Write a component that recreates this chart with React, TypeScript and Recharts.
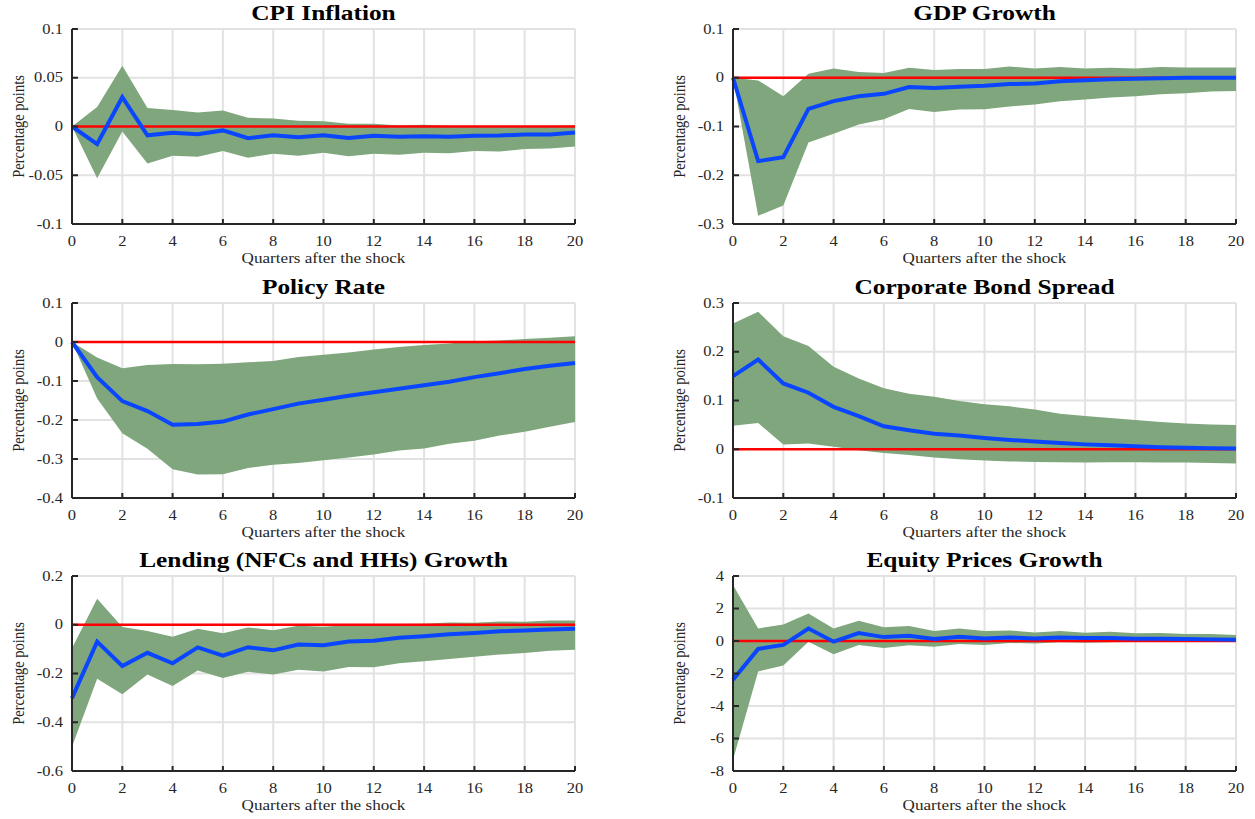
import React from 'react'
import { Area, CartesianGrid, ComposedChart, Line, ReferenceLine, XAxis, YAxis } from 'recharts'

const QUARTERS = [0, 1, 2, 3, 4, 5, 6, 7, 8, 9, 10, 11, 12, 13, 14, 15, 16, 17, 18, 19, 20]
const X_TICKS = [0, 2, 4, 6, 8, 10, 12, 14, 16, 18, 20]

const CPI_MID = [0, -0.018, 0.03, -0.009, -0.0065, -0.008, -0.004, -0.012, -0.009, -0.011, -0.009, -0.0117, -0.0096, -0.0106, -0.0099, -0.0106, -0.0096, -0.0093, -0.0082, -0.0082, -0.0062]
const CPI_UP = [0, 0.02, 0.0624, 0.019, 0.017, 0.0144, 0.0165, 0.009, 0.0082, 0.0058, 0.0055, 0.0027, 0.0027, 0.001, 0.0017, 0.0005, 0.0005, 0.0005, 0.0006, 0.0006, 0.001]
const CPI_LO = [0, -0.053, -0.005, -0.038, -0.03, -0.031, -0.025, -0.032, -0.028, -0.03, -0.027, -0.0305, -0.028, -0.029, -0.027, -0.0275, -0.025, -0.0257, -0.023, -0.0226, -0.0206]
const CPI_TICKS = [-0.1, -0.05, 0, 0.05, 0.1]

const GDP_MID = [0, -0.171, -0.163, -0.064, -0.048, -0.038, -0.033, -0.019, -0.021, -0.0185, -0.0165, -0.013, -0.012, -0.007, -0.005, -0.003, -0.002, -0.001, 0, 0, 0]
const GDP_UP = [0, -0.0055, -0.038, 0.008, 0.019, 0.012, 0.0096, 0.0206, 0.016, 0.018, 0.018, 0.023, 0.019, 0.022, 0.019, 0.0206, 0.019, 0.022, 0.021, 0.021, 0.021]
const GDP_LO = [0, -0.283, -0.262, -0.133, -0.115, -0.096, -0.085, -0.064, -0.07, -0.065, -0.0645, -0.059, -0.055, -0.048, -0.0446, -0.0405, -0.0378, -0.034, -0.032, -0.028, -0.027]
const GDP_TICKS = [-0.3, -0.2, -0.1, 0, 0.1]

const RATE_MID = [0, -0.09, -0.1515, -0.177, -0.212, -0.21, -0.204, -0.186, -0.172, -0.158, -0.148, -0.138, -0.129, -0.12, -0.111, -0.102, -0.09, -0.08, -0.069, -0.061, -0.054]
const RATE_UP = [0, -0.04, -0.067, -0.059, -0.0565, -0.057, -0.0556, -0.052, -0.049, -0.0385, -0.0325, -0.027, -0.019, -0.013, -0.008, -0.004, 0.002, 0.004, 0.008, 0.011, 0.0146]
const RATE_LO = [0, -0.1447, -0.234, -0.274, -0.326, -0.34, -0.339, -0.323, -0.315, -0.31, -0.303, -0.296, -0.2885, -0.278, -0.273, -0.261, -0.253, -0.24, -0.23, -0.217, -0.205]
const RATE_TICKS = [-0.4, -0.3, -0.2, -0.1, 0, 0.1]

const SPREAD_MID = [0.15, 0.184, 0.135, 0.116, 0.087, 0.068, 0.047, 0.039, 0.032, 0.028, 0.023, 0.019, 0.016, 0.013, 0.01, 0.008, 0.006, 0.004, 0.003, 0.002, 0.0014]
const SPREAD_UP = [0.258, 0.282, 0.232, 0.212, 0.169, 0.145, 0.125, 0.114, 0.1075, 0.099, 0.0925, 0.088, 0.0815, 0.073, 0.068, 0.064, 0.06, 0.056, 0.053, 0.051, 0.05]
const SPREAD_LO = [0.048, 0.054, 0.01, 0.012, 0.005, -0.002, -0.0075, -0.012, -0.017, -0.0205, -0.023, -0.025, -0.026, -0.0267, -0.027, -0.0267, -0.0267, -0.027, -0.027, -0.028, -0.029]
const SPREAD_TICKS = [-0.1, 0, 0.1, 0.2, 0.3]

const LEND_MID = [-0.301, -0.069, -0.169, -0.115, -0.158, -0.093, -0.127, -0.092, -0.105, -0.081, -0.084, -0.069, -0.066, -0.053, -0.047, -0.039, -0.034, -0.027, -0.024, -0.019, -0.016]
const LEND_UP = [-0.096, 0.107, -0.009, -0.026, -0.049, -0.016, -0.035, -0.011, -0.023, -0.004, -0.008, -0.001, -0.001, 0.003, 0.004, 0.009, 0.008, 0.0135, 0.012, 0.0176, 0.0176]
const LEND_LO = [-0.501, -0.222, -0.285, -0.204, -0.251, -0.188, -0.218, -0.193, -0.204, -0.185, -0.192, -0.173, -0.174, -0.158, -0.15, -0.141, -0.131, -0.122, -0.116, -0.107, -0.103]
const LEND_TICKS = [-0.6, -0.4, -0.2, 0, 0.2]

const EQUITY_MID = [-2.38, -0.49, -0.24, 0.77, -0.04, 0.49, 0.24, 0.32, 0.12, 0.26, 0.16, 0.22, 0.16, 0.22, 0.18, 0.18, 0.14, 0.14, 0.12, 0.1, 0.08]
const EQUITY_UP = [3.45, 0.77, 1.02, 1.69, 0.77, 1.24, 0.85, 0.93, 0.61, 0.77, 0.61, 0.65, 0.53, 0.61, 0.51, 0.57, 0.47, 0.49, 0.43, 0.43, 0.37]
const EQUITY_LO = [-7.31, -1.87, -1.5, -0.04, -0.81, -0.24, -0.43, -0.26, -0.35, -0.18, -0.24, -0.12, -0.16, -0.08, -0.1, -0.08, -0.06, -0.04, -0.04, -0.02, -0.02]
const EQUITY_TICKS = [-8, -6, -4, -2, 0, 2, 4]

const FONT = "'Liberation Serif', 'Times New Roman', serif"
const SX = 1.18
const AXIS = '#262626'
const GRID = '#e2e2e2'
const BAND = '#7fa67c'
const BLUE = '#0a46ff'
const RED = '#ff0000'
const H = 273
const TOP = 29
const PLOT_H = 195

// text stretched sideways like the exported figure
function SText({ x, y, size, anchor = 'middle', weight = 'normal', rotate = false, fill = AXIS, children }: any) {
  const t = `translate(${x},${y}) scale(${SX},1)` + (rotate ? ' rotate(-90)' : '')
  return (
    <text transform={t} textAnchor={anchor} fontSize={size} fontWeight={weight} fontFamily={FONT} fill={fill}>
      {children}
    </text>
  )
}

function XTick({ x, y, payload }: any) {
  return (
    <g>
      <line x1={x} x2={x} y1={y} y2={y - 5} stroke={AXIS} strokeWidth={2} />
      <SText x={x} y={y + 21.5} size={14}>{payload.value}</SText>
    </g>
  )
}

function YTick({ x, y, payload }: any) {
  return (
    <g>
      <line x1={x} x2={x + 6} y1={y} y2={y} stroke={AXIS} strokeWidth={2} />
      <SText x={x - 9} y={y + 4.7} size={14} anchor="end">{payload.value}</SText>
    </g>
  )
}

function Panel({ left, top, width, yWidth, right, title, mid, lower, upper, ticks }: any) {
  const data = QUARTERS.map((q, i) => ({ q, mid: mid[i], band: [lower[i], upper[i]] }))
  const plotLeft = yWidth
  const plotRight = width - right
  const domain = [ticks[0], ticks[ticks.length - 1]]
  return (
    <div style={{ position: 'absolute', left, top, width, height: H }}>
      <ComposedChart width={width} height={H} data={data} margin={{ top: TOP, right, bottom: 0, left: 0 }}>
        <CartesianGrid stroke={GRID} strokeWidth={2} />
        <XAxis
          dataKey="q"
          type="number"
          domain={[0, 20]}
          ticks={X_TICKS}
          interval={0}
          height={H - TOP - PLOT_H}
          tickSize={0}
          tickMargin={0}
          tickLine={false}
          axisLine={{ stroke: AXIS, strokeWidth: 2 }}
          tick={<XTick />}
        />
        <YAxis
          type="number"
          domain={domain}
          ticks={ticks}
          interval={0}
          width={yWidth}
          allowDataOverflow
          tickSize={0}
          tickMargin={0}
          tickLine={false}
          axisLine={{ stroke: AXIS, strokeWidth: 2 }}
          tick={<YTick />}
        />
        <Area dataKey="band" type="linear" fill={BAND} fillOpacity={1} stroke="none" isAnimationActive={false} />
        <ReferenceLine y={0} stroke={RED} strokeWidth={2.5} />
        <Line dataKey="mid" type="linear" stroke={BLUE} strokeWidth={4} dot={false} isAnimationActive={false} />
      </ComposedChart>
      <svg width={width} height={H} style={{ position: 'absolute', left: 0, top: 0, pointerEvents: 'none' }}>
        <SText x={(plotLeft + plotRight) / 2} y={TOP - 9} size={21.5} weight="bold" fill="#000">{title}</SText>
        <SText x={(plotLeft + plotRight) / 2} y={TOP + PLOT_H + 38.5} size={14.5}>Quarters after the shock</SText>
        <SText x={plotLeft - 48} y={TOP + PLOT_H / 2} size={14.5} rotate>Percentage points</SText>
      </svg>
    </div>
  )
}

const L = { left: 0, width: 600, yWidth: 72, right: 25 }
const R = { left: 640, width: 615, yWidth: 93, right: 19 }

export default function App() {
  return (
    <div style={{ position: 'absolute', left: 0, top: 0, width: 1255, height: 819, background: '#fff', overflow: 'hidden' }}>
      <Panel {...L} top={0} title="CPI Inflation" mid={CPI_MID} lower={CPI_LO} upper={CPI_UP} ticks={CPI_TICKS} />
      <Panel {...R} top={0} title="GDP Growth" mid={GDP_MID} lower={GDP_LO} upper={GDP_UP} ticks={GDP_TICKS} />
      <Panel {...L} top={274} title="Policy Rate" mid={RATE_MID} lower={RATE_LO} upper={RATE_UP} ticks={RATE_TICKS} />
      <Panel {...R} top={274} title="Corporate Bond Spread" mid={SPREAD_MID} lower={SPREAD_LO} upper={SPREAD_UP} ticks={SPREAD_TICKS} />
      <Panel {...L} top={547} title="Lending (NFCs and HHs) Growth" mid={LEND_MID} lower={LEND_LO} upper={LEND_UP} ticks={LEND_TICKS} />
      <Panel {...R} top={547} title="Equity Prices Growth" mid={EQUITY_MID} lower={EQUITY_LO} upper={EQUITY_UP} ticks={EQUITY_TICKS} />
    </div>
  )
}
